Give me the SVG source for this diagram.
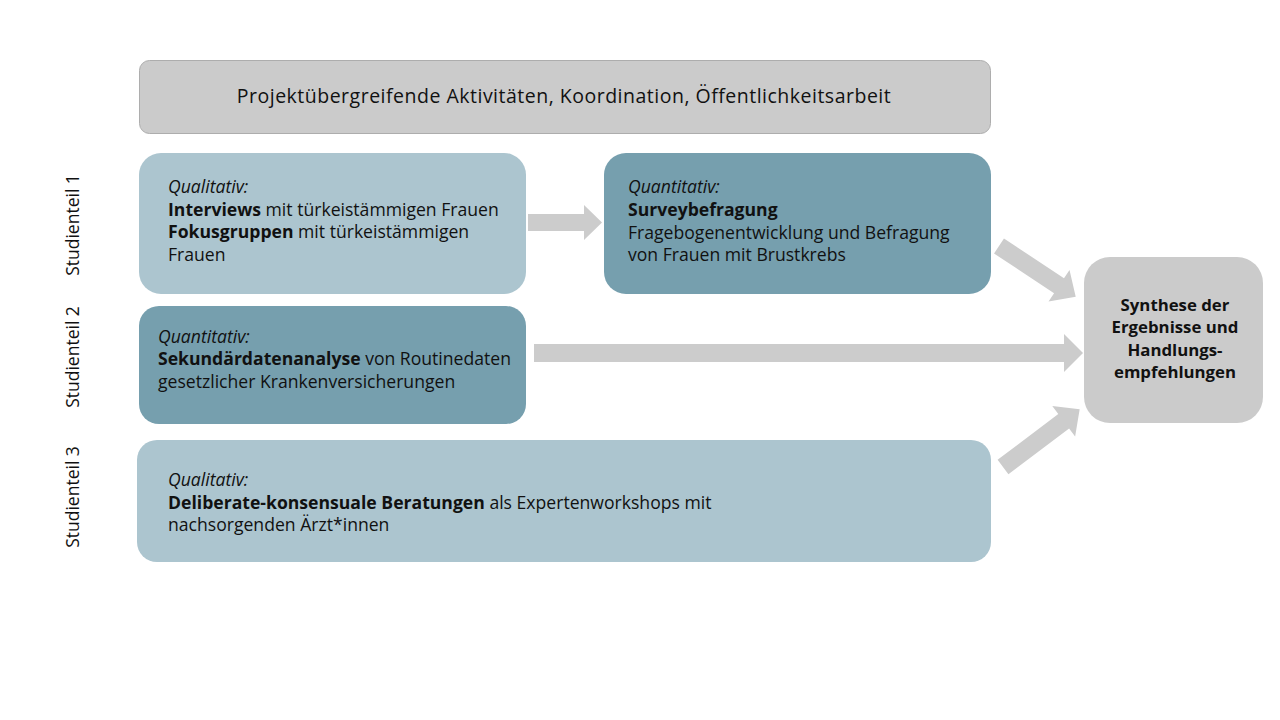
<svg xmlns="http://www.w3.org/2000/svg" width="1280" height="720" viewBox="0 0 1280 720">
<style>
.t{font-family:"Open Sans","Liberation Sans",sans-serif;font-size:17.6px;fill:#111}
.b{font-weight:bold}
.i{font-style:italic}
.side{font-family:"Open Sans","Liberation Sans",sans-serif;font-size:17.5px;fill:#111}
.syn{font-family:"Open Sans","Liberation Sans",sans-serif;font-size:16.8px;font-weight:bold;fill:#111}
.arrow{fill:#cccccc}
.light{fill:#acc5cf}
.dark{fill:#769fae}
.grey{fill:#cbcbcb}
</style>
<rect width="1280" height="720" fill="#ffffff"/>
<g id="side-labels">
<text class="side" transform="translate(79,225) rotate(-90)" text-anchor="middle">Studienteil 1</text>
<text class="side" transform="translate(79,357) rotate(-90)" text-anchor="middle">Studienteil 2</text>
<text class="side" transform="translate(79,497) rotate(-90)" text-anchor="middle">Studienteil 3</text>
</g>
<g id="top-bar">
<rect x="139.5" y="60.5" width="851" height="73" rx="10" class="grey" stroke="#adadad" stroke-width="1"/>
<text class="t" x="564" y="103" text-anchor="middle" style="font-size:19.5px;letter-spacing:0.5px">Projektübergreifende Aktivitäten, Koordination, Öffentlichkeitsarbeit</text>
</g>
<g id="box-qual-1">
<rect x="139" y="153" width="387" height="141" rx="22" class="light"/>
<text class="t" x="168" y="193"><tspan class="i">Qualitativ:</tspan></text>
<text class="t" x="168" y="216"><tspan class="b">Interviews</tspan> mit türkeistämmigen Frauen</text>
<text class="t" x="168" y="238"><tspan class="b">Fokusgruppen</tspan> mit türkeistämmigen</text>
<text class="t" x="168" y="261">Frauen</text>
</g>
<g id="box-quant-1">
<rect x="604" y="153" width="387" height="141" rx="22" class="dark"/>
<text class="t" x="628" y="193"><tspan class="i">Quantitativ:</tspan></text>
<text class="t b" x="628" y="216">Surveybefragung</text>
<text class="t" x="628" y="239">Fragebogenentwicklung und Befragung</text>
<text class="t" x="628" y="261">von Frauen mit Brustkrebs</text>
</g>
<g id="box-quant-2">
<rect x="139" y="306" width="387" height="118" rx="20" class="dark"/>
<text class="t" x="158" y="343"><tspan class="i">Quantitativ:</tspan></text>
<text class="t" x="158" y="365"><tspan class="b">Sekundärdatenanalyse</tspan> von Routinedaten</text>
<text class="t" x="158" y="388">gesetzlicher Krankenversicherungen</text>
</g>
<g id="box-qual-3">
<rect x="137" y="440" width="854" height="122" rx="20" class="light"/>
<text class="t" x="168" y="486"><tspan class="i">Qualitativ:</tspan></text>
<text class="t" x="168" y="509"><tspan class="b">Deliberate-konsensuale Beratungen</tspan> als Expertenworkshops mit</text>
<text class="t" x="168" y="531">nachsorgenden Ärzt*innen</text>
</g>
<g id="box-synthese">
<rect x="1084" y="257" width="179" height="166" rx="26" class="grey"/>
<text class="syn" x="1175" y="311" text-anchor="middle">Synthese der</text>
<text class="syn" x="1175" y="333" text-anchor="middle">Ergebnisse und</text>
<text class="syn" x="1175" y="356" text-anchor="middle">Handlungs-</text>
<text class="syn" x="1175" y="378" text-anchor="middle">empfehlungen</text>
</g>
<g id="connectors">
<polygon class="arrow" points="528,214 584,214 584,205 602,222.5 584,240 584,231 528,231"/>
<polygon class="arrow" points="534,344 1064,344 1064,334 1083,353 1064,372 1064,362 534,362"/>
<polygon class="arrow" transform="translate(999,246) rotate(33.5)" points="0,-9 72,-9 72,-19 92,0 72,19 72,9 0,9"/>
<polygon class="arrow" transform="translate(1003,467) rotate(-37)" points="0,-9 76,-9 76,-19 96,0 76,19 76,9 0,9"/>
</g>
</svg>
